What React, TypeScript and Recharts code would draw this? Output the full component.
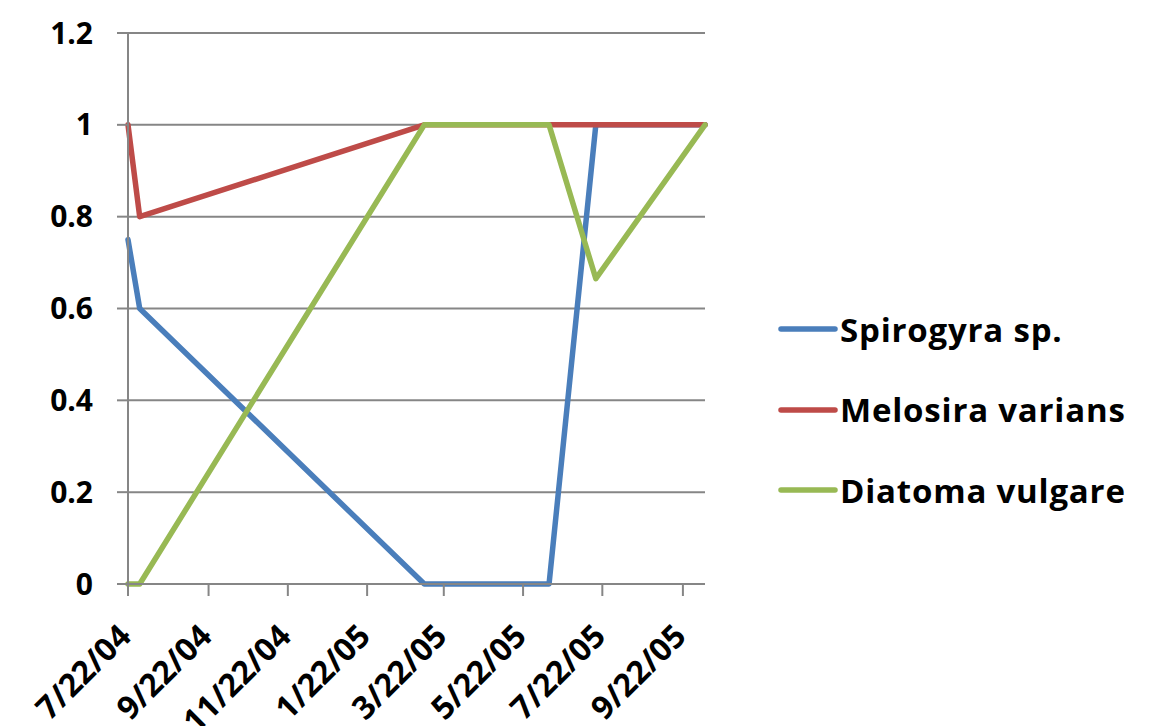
import { LineChart, Line, XAxis, YAxis, CartesianGrid, Legend } from 'recharts';

// sample dates
const sampleDates = ['7/22/04', '7/31/04', '3/7/05', '6/11/05', '7/17/05', '10/9/05'];
const spirogyra = [0.75, 0.6, 0, 0, 1, 1];
const melosira = [1, 0.8, 1, 1, 1, 1];
const diatoma = [0, 0, 1, 1, 0.665, 1];

const xTickLabels = ['7/22/04', '9/22/04', '11/22/04', '1/22/05', '3/22/05', '5/22/05', '7/22/05', '9/22/05'];
const yTicks = [0, 0.2, 0.4, 0.6, 0.8, 1, 1.2];

const series = [
  { key: 'spirogyra', name: 'Spirogyra sp.', color: '#4A7EBB' },
  { key: 'melosira', name: 'Melosira varians', color: '#BE4B48' },
  { key: 'diatoma', name: 'Diatoma vulgare', color: '#98B954' },
];

const FONT = '"Open Sans", Lato, sans-serif';
const GRID = '#868686';

const toTime = (s: string) => {
  const [m, d, y] = s.split('/').map(Number);
  return Date.UTC(2000 + y, m - 1, d);
};

const data = sampleDates.map((d, i) => ({
  t: toTime(d),
  spirogyra: spirogyra[i],
  melosira: melosira[i],
  diatoma: diatoma[i],
}));

const xTicks = xTickLabels.map(toTime);
const labelOf = new Map(xTicks.map((t, i) => [t, xTickLabels[i]]));

const DateTick = ({ x, y, payload }: any) => (
  <g transform={`translate(${x + 5},${y + 42})`}>
    <text
      textAnchor="end"
      transform="rotate(-45)"
      fontFamily={FONT}
      fontSize={32}
      fontWeight={700}
      fill="#000"
    >
      {labelOf.get(payload.value)}
    </text>
  </g>
);

const LegendBox = () => (
  <div style={{ fontFamily: FONT }}>
    {series.map((s) => (
      <div key={s.key} style={{ display: 'flex', alignItems: 'center', height: 80.5 }}>
        <svg width={60} height={8} style={{ marginRight: 2 }}>
          <line x1={3} y1={4} x2={57} y2={4} stroke={s.color} strokeWidth={5.5} strokeLinecap="round" />
        </svg>
        <span style={{ fontSize: 33, fontWeight: 700, color: '#000', whiteSpace: 'nowrap', letterSpacing: 0.8 }}>
          {s.name}
        </span>
      </div>
    ))}
  </div>
);

export default function App() {
  return (
    <div style={{ position: 'absolute', left: 0, top: 0, width: 1157, height: 726, background: '#fff', overflow: 'hidden' }}>
      <LineChart width={1157} height={726} data={data} margin={{ top: 33, right: 452, left: 0, bottom: 0 }}>
        <CartesianGrid vertical={false} stroke={GRID} strokeWidth={2} />
        <XAxis
          dataKey="t"
          type="number"
          domain={['dataMin', 'dataMax']}
          ticks={xTicks}
          interval={0}
          height={142}
          tickSize={12}
          tickMargin={0}
          axisLine={{ stroke: GRID, strokeWidth: 2 }}
          tickLine={{ stroke: GRID, strokeWidth: 2 }}
          tick={<DateTick />}
        />
        <YAxis
          type="number"
          domain={[0, 1.2]}
          ticks={yTicks}
          interval={0}
          width={128}
          tickSize={11}
          tickMargin={24}
          axisLine={{ stroke: GRID, strokeWidth: 2 }}
          tickLine={{ stroke: GRID, strokeWidth: 2 }}
          tick={{ fill: '#000', fontSize: 30, fontWeight: 700, fontFamily: FONT }}
        />
        <Legend
          layout="vertical"
          align="center"
          verticalAlign="middle"
          wrapperStyle={{ left: 778, top: 289, width: 379 }}
          content={<LegendBox />}
        />
        {series.map((s) => (
          <Line
            key={s.key}
            dataKey={s.key}
            name={s.name}
            type="linear"
            stroke={s.color}
            strokeWidth={5.5}
            strokeLinejoin="round"
            strokeLinecap="round"
            dot={false}
            activeDot={false}
            isAnimationActive={false}
          />
        ))}
      </LineChart>
    </div>
  );
}
